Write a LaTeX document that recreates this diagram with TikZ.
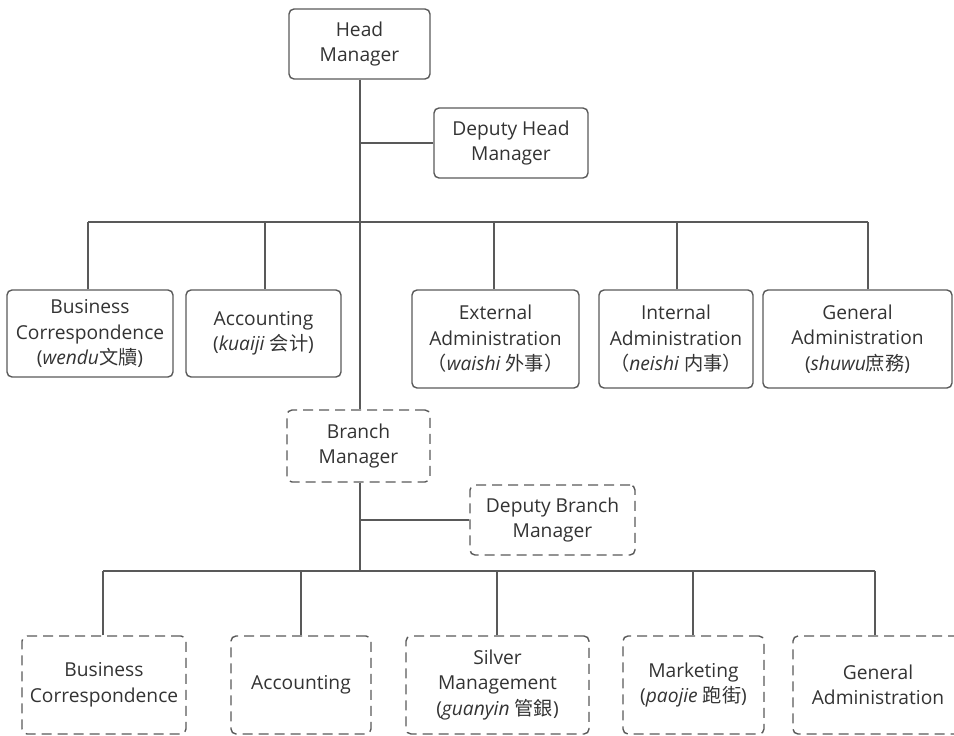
\documentclass[tikz,border=0pt]{standalone}
\usepackage{fontspec}
\setmainfont{Open Sans}
\newfontfamily\cjk{Noto Sans CJK SC}
\definecolor{linec}{HTML}{595959}
\definecolor{textc}{HTML}{333333}
\begin{document}
\begin{tikzpicture}[x=1pt,y=-1pt,
  every node/.style={font=\fontsize{19.2}{25.5}\selectfont, text=textc, align=center, inner sep=0pt},
  solidbox/.style={draw=linec, line width=1.4pt, rounded corners=5pt},
  dashbox/.style={draw=linec, line width=1.4pt, rounded corners=5pt, dash pattern=on 10pt off 6pt},
  conn/.style={draw=linec, line width=1.4pt}]
\useasboundingbox (0,0) rectangle (954,736);
\begin{scope}
\clip (0,0) rectangle (954,736);
% top level
\node[solidbox, minimum width=141pt, minimum height=70pt] (hm) at (359.5,44) {Head\\Manager};
\node[solidbox, minimum width=154pt, minimum height=70pt] (dh) at (511,143) {Deputy Head\\Manager};
% second row
\node[solidbox, minimum width=166pt, minimum height=87pt] (bc1) at (90,333.5) {Business\\Correspondence\\(\textit{wendu}{\cjk 文牘})};
\node[solidbox, minimum width=155pt, minimum height=87pt] (ac1) at (263.5,333.5) {Accounting\\(\textit{kuaiji} {\cjk 会计})};
\node[solidbox, minimum width=167pt, minimum height=98pt] (ea1) at (495.5,339) {External\\Administration\\{\cjk （}\textit{waishi} {\cjk 外事）}};
\node[solidbox, minimum width=154pt, minimum height=98pt] (ia1) at (676,339) {Internal\\Administration\\{\cjk （}\textit{neishi} {\cjk 内事）}};
\node[solidbox, minimum width=189pt, minimum height=98pt] (ga1) at (857.5,339) {General\\Administration\\(\textit{shuwu}{\cjk 庶務})};
% branch
\node[dashbox, minimum width=143pt, minimum height=72pt] (bm) at (358.5,446) {Branch\\Manager};
\node[dashbox, minimum width=165pt, minimum height=70pt] (db) at (552.5,520) {Deputy Branch\\Manager};
% bottom row
\node[dashbox, minimum width=164pt, minimum height=98pt] (bc2) at (104,685) {Business\\Correspondence};
\node[dashbox, minimum width=140pt, minimum height=98pt] (ac2) at (301,685) {Accounting};
\node[dashbox, minimum width=183pt, minimum height=98pt] (sm2) at (497.5,685) {Silver\\Management\\(\textit{guanyin} {\cjk 管銀})};
\node[dashbox, minimum width=141pt, minimum height=98pt] (mk2) at (693.5,685) {Marketing\\(\textit{paojie} {\cjk 跑街})};
\node[dashbox, minimum width=170pt, minimum height=98pt] (ga2) at (878,685) {General\\Administration};
% junction coordinates
\coordinate (bar1w) at (88,222);
\coordinate (bar1e) at (868,222);
\coordinate (bar2w) at (103,571);
\coordinate (bar2e) at (875,571);
% connectors top
\draw[conn] ([xshift=0.5pt]hm.south) -- ([xshift=1.5pt]bm.north);
\draw[conn] (dh.west) -- (dh.west -| hm.south);
\draw[conn] (bar1w) -- (bar1e);
\draw[conn] ([xshift=-2pt]bc1.north) -- ([xshift=-2pt]bc1.north |- bar1w);
\draw[conn] ([xshift=1.5pt]ac1.north) -- ([xshift=1.5pt]ac1.north |- bar1w);
\draw[conn] ([xshift=-1.5pt]ea1.north) -- ([xshift=-1.5pt]ea1.north |- bar1w);
\draw[conn] ([xshift=1pt]ia1.north) -- ([xshift=1pt]ia1.north |- bar1w);
\draw[conn] ([xshift=10.5pt]ga1.north) -- ([xshift=10.5pt]ga1.north |- bar1w);
% connectors bottom
\draw[conn] ([xshift=1.5pt]bm.south) -- ([xshift=1.5pt]bm.south |- bar2w);
\draw[conn] (db.west) -- (db.west -| bm.south);
\draw[conn] (bar2w) -- (bar2e);
\draw[conn] ([xshift=-1pt]bc2.north) -- ([xshift=-1pt]bc2.north |- bar2w);
\draw[conn] (ac2.north) -- (ac2.north |- bar2w);
\draw[conn] ([xshift=-0.5pt]sm2.north) -- ([xshift=-0.5pt]sm2.north |- bar2w);
\draw[conn] ([xshift=-0.5pt]mk2.north) -- ([xshift=-0.5pt]mk2.north |- bar2w);
\draw[conn] ([xshift=-3pt]ga2.north) -- ([xshift=-3pt]ga2.north |- bar2w);
\end{scope}
\end{tikzpicture}
\end{document}
